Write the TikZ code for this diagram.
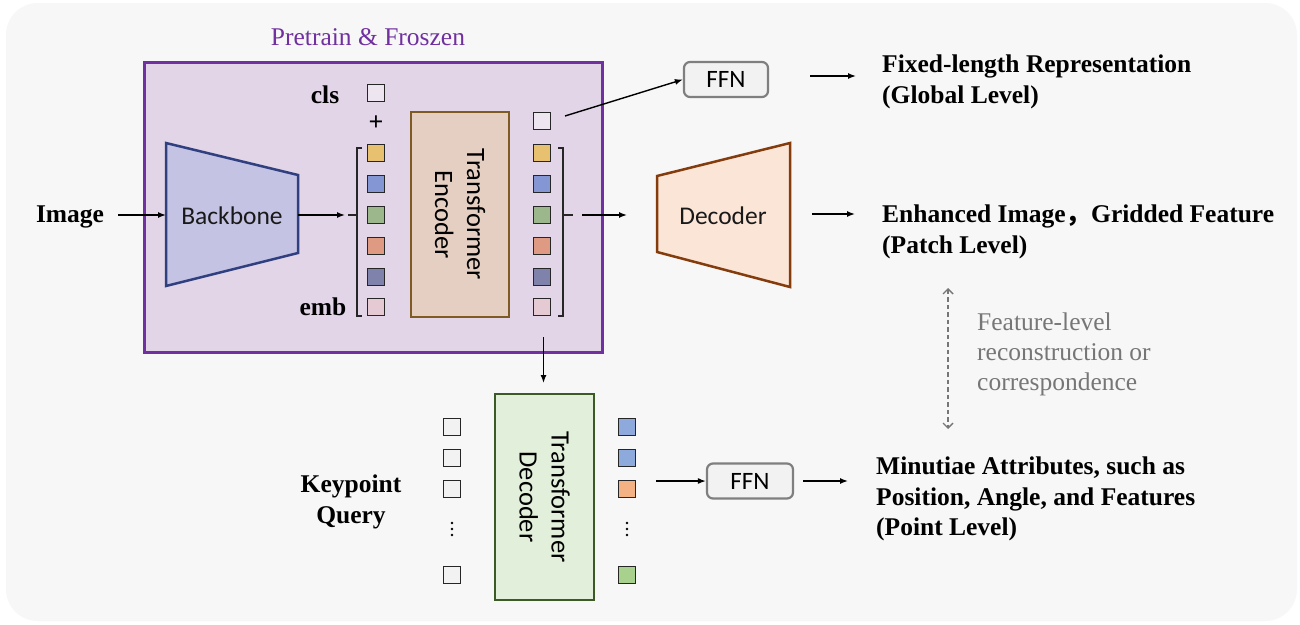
\documentclass[tikz,border=0pt]{standalone}
\usepackage{fontspec}
\setmainfont{Liberation Serif}
\newfontfamily\sansf{Carlito}
\newfontfamily\cjkf{Noto Sans CJK SC}
\usetikzlibrary{arrows.meta,shapes.geometric}
\definecolor{bgc}{HTML}{F7F7F7}
\definecolor{purp}{HTML}{7030A0}
\definecolor{purpfill}{HTML}{E1D5E7}
\definecolor{bbfill}{HTML}{C5C3E4}
\definecolor{bbdraw}{HTML}{2F3F7F}
\definecolor{encfill}{HTML}{E5CFC3}
\definecolor{encdraw}{HTML}{7F5A22}
\definecolor{decfill}{HTML}{FBE5D6}
\definecolor{decdraw}{HTML}{843C0C}
\definecolor{tdfill}{HTML}{E2EFDA}
\definecolor{tddraw}{HTML}{3B5A26}
\definecolor{ffnfill}{HTML}{F2F2F2}
\definecolor{ffndraw}{HTML}{7F7F7F}
\definecolor{cyel}{HTML}{E8C170}
\definecolor{cblu}{HTML}{8497D4}
\definecolor{cgrn}{HTML}{9DB78C}
\definecolor{csal}{HTML}{DE9A82}
\definecolor{cdbl}{HTML}{7F82AA}
\definecolor{cpnk}{HTML}{E5CAD3}
\definecolor{cwht}{HTML}{EDE6F0}
\definecolor{qwht}{HTML}{F2F2F2}
\definecolor{oblu}{HTML}{8EA9DB}
\definecolor{oorg}{HTML}{F4B183}
\definecolor{ogrn}{HTML}{A9D18E}
\definecolor{graytxt}{HTML}{767676}
\begin{document}
\begin{tikzpicture}[x=1pt,y=-1pt,
  font=\fontsize{25.5}{30}\selectfont,
  sq/.style={draw=black!85,line width=1.3pt,minimum size=17pt,inner sep=0pt},
  arr/.style={-{Latex[length=8pt,width=6pt]},line width=1.4pt},
  lbl/.style={font=\fontsize{25.5}{30.5}\selectfont\bfseries,align=left,inner sep=0pt},
  sanslbl/.style={font=\fontsize{25.5}{31}\selectfont\sansf,inner sep=0pt},
  ffnbox/.style={draw=ffndraw,fill=ffnfill,line width=2.2pt,rounded corners=6pt,minimum height=35pt,inner sep=0pt,font=\fontsize{25}{30}\selectfont\sansf},
  brk/.style={line width=1.2pt,black!85},
  vdot/.style={circle,fill=black,inner sep=0pt,minimum size=2.6pt}
]
\useasboundingbox (0,0) rectangle (1300,624);
\fill[white] (0,0) rectangle (1300,624);
\fill[bgc,rounded corners=32pt] (6,3) rectangle (1297,621);

% frozen box
\node[draw=purp,fill=purpfill,line width=3pt,minimum width=458pt,minimum height=290pt,inner sep=0pt] (frz) at (373,207) {};
\node[text=purp,font=\fontsize{25.5}{30}\selectfont,inner sep=0pt] (frzt) at (368,37) {Pretrain \& Froszen};

% backbone
\draw[fill=bbfill,draw=bbdraw,line width=2.5pt,line join=miter] (166,143) -- (298,175) -- (298,253) -- (166,286) -- cycle;
\node[sanslbl,text=black!90] (bb) at (232,216) {Backbone};
\coordinate (bbin) at (166,215);
\coordinate (bbout) at (298,215);

% image
\node[lbl] (img) at (70,217) {Image};
\coordinate (imgs) at (118,215);
\draw[arr] (imgs) -- (bbin);

% left tokens
\node[lbl] (cls) at (325,95) {cls};
\node[lbl] (emb) at (323,307) {emb};
\node[sq,fill=cwht] (l0) at (376,93) {};
\node[inner sep=0pt,font=\fontsize{26}{26}\selectfont\bfseries] (plus) at (376,123) {+};
\node[sq,fill=cyel] (l1) at (376,153) {};
\node[sq,fill=cblu] (l2) at (376,184) {};
\node[sq,fill=cgrn] (l3) at (376,215) {};
\node[sq,fill=csal] (l4) at (376,246) {};
\node[sq,fill=cdbl] (l5) at (376,277) {};
\node[sq,fill=cpnk] (l6) at (376,307) {};
\draw[brk] (362,148) -- (357,148) -- (357,316) -- (362,316);
\draw[brk] (348,215) -- (357,215);
\coordinate (lbr) at (345,215);
\draw[arr] (bbout) -- (lbr);

% encoder
\node[draw=encdraw,fill=encfill,line width=2.5pt,minimum width=98pt,minimum height=205pt,inner sep=0pt] (enc) at (460,214.5) {};
\node[sanslbl,rotate=-90,align=center,font=\fontsize{26.5}{32}\selectfont\sansf] (enct) at (enc.center) {Transformer\\Encoder};

% right tokens
\node[sq,fill=cwht] (r0) at (542,121) {};
\node[sq,fill=cyel] (r1) at (542,153) {};
\node[sq,fill=cblu] (r2) at (542,184) {};
\node[sq,fill=cgrn] (r3) at (542,215) {};
\node[sq,fill=csal] (r4) at (542,246) {};
\node[sq,fill=cdbl] (r5) at (542,277) {};
\node[sq,fill=cpnk] (r6) at (542,307) {};
\draw[brk] (558,148) -- (563,148) -- (563,316) -- (558,316);
\draw[brk] (563,215) -- (573,215);
\coordinate (rbr) at (582,215);

% FFN top
\node[ffnbox,minimum width=84pt] (ffn1) at (726,79.5) {FFN};
\coordinate (r0s) at (565,116);
\draw[arr] (r0s) -- (ffn1.west);

% decoder
\draw[fill=decfill,draw=decdraw,line width=2.5pt,line join=miter] (657,176) -- (790,143) -- (790,287) -- (657,252) -- cycle;
\node[sanslbl,text=black!90] (dec) at (723,216) {Decoder};
\coordinate (decin) at (627,215);
\draw[arr] (rbr) -- (decin);

% outputs top
\node[lbl,anchor=west] (fix) at (882,82) {Fixed-length Representation\\(Global Level)};
\node[lbl,anchor=west] (enh) at (882,232) {Enhanced Image{\cjkf\bfseries ，}Gridded Feature\\(Patch Level)};
\coordinate (f1s) at (810,76);
\coordinate (f1e) at (856,76);
\draw[arr] (f1s) -- (f1e);
\coordinate (d1s) at (812,214);
\coordinate (d1e) at (855,214);
\draw[arr] (d1s) -- (d1e);

% feature-level link
\coordinate (fla) at (948,288);
\coordinate (flb) at (948,429);
\draw[graytxt,line width=1.4pt,dash pattern=on 4.5pt off 3pt,{Straight Barb[length=5pt,width=10pt]}-{Straight Barb[length=5pt,width=10pt]}] (fla) -- (flb);
\node[text=graytxt,align=left,inner sep=0pt,anchor=west,font=\fontsize{25.5}{30}\selectfont] (flt) at (977,354) {Feature-level\\reconstruction or\\correspondence};

% vertical arrow to transformer decoder
\coordinate (vs) at (543.5,337);
\coordinate (ve) at (543.5,383);
\draw[arr] (vs) -- (ve);

% transformer decoder
\node[draw=tddraw,fill=tdfill,line width=2.5pt,minimum width=99pt,minimum height=206pt,inner sep=0pt] (tdec) at (544.5,497) {};
\node[sanslbl,rotate=-90,align=center,font=\fontsize{26.5}{32}\selectfont\sansf] (tdect) at (tdec.center) {Transformer\\Decoder};

% queries
\node[lbl,align=center] (kq) at (351,502) {Keypoint\\Query};
\node[sq,fill=qwht] (q1) at (452,427) {};
\node[sq,fill=qwht] (q2) at (452,458) {};
\node[sq,fill=qwht] (q3) at (452,489) {};
\node[vdot] (qd1) at (452,523) {};
\node[vdot] (qd2) at (452,529) {};
\node[vdot] (qd3) at (452,535) {};
\node[sq,fill=qwht] (q4) at (452,575) {};

\node[sq,fill=oblu] (o1) at (627,427) {};
\node[sq,fill=oblu] (o2) at (627,458) {};
\node[sq,fill=oorg] (o3) at (627,489) {};
\node[vdot] (od1) at (627,523) {};
\node[vdot] (od2) at (627,529) {};
\node[vdot] (od3) at (627,535) {};
\node[sq,fill=ogrn] (o4) at (627,575) {};

% FFN bottom
\node[ffnbox,minimum width=86pt] (ffn2) at (750,481) {FFN};
\coordinate (o3s) at (656,481);
\draw[arr] (o3s) -- (ffn2.west);
\coordinate (f2s) at (803,481);
\coordinate (m1e) at (848,481);
\draw[arr] (f2s) -- (m1e);
\node[lbl,anchor=west] (min) at (876,499) {Minutiae Attributes, such as\\Position, Angle, and Features\\(Point Level)};
\end{tikzpicture}
\end{document}
